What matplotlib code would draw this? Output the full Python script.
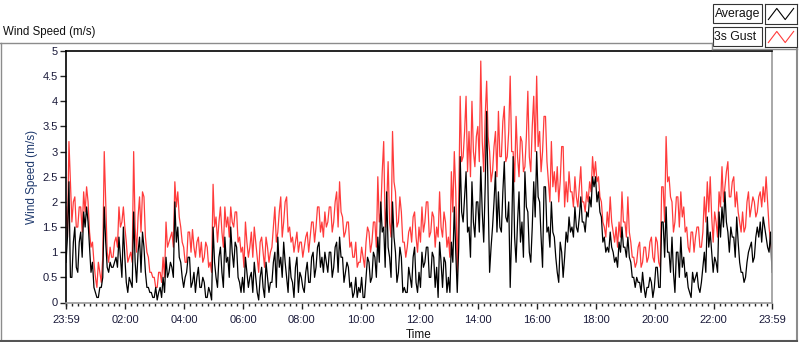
import matplotlib
matplotlib.use("Agg")
import matplotlib.pyplot as plt
import numpy as np
from matplotlib.patches import Rectangle
from matplotlib.lines import Line2D

plt.rcParams["font.family"] = ["Liberation Sans", "DejaVu Sans"]

# 3-minute samples (m/s), one row per hour starting at 23:59 of the previous day
gust = [
    1.9, 1.3, 3.2, 2.4, 1.6, 2.0, 2.1, 1.5, 1.5, 1.9, 1.9, 1.4, 2.2, 1.8, 2.3, 2.0, 1.4, 1.1, 1.2, 0.8,
    0.5, 0.3, 0.8, 0.6, 0.4, 0.9, 3.0, 2.0, 1.0, 0.8, 1.1, 0.9, 0.9, 1.2, 1.3, 1.1, 1.9, 1.5, 1.6, 1.9,
    1.5, 1.2, 0.8, 0.9, 1.0, 0.8, 3.0, 1.5, 1.0, 1.7, 2.1, 1.4, 2.2, 2.1, 1.3, 1.0, 0.9, 0.6, 0.6, 0.5,
    0.5, 0.3, 0.3, 0.6, 0.6, 0.4, 0.9, 0.5, 1.6, 1.1, 1.2, 1.3, 1.4, 1.1, 2.4, 1.9, 2.2, 1.7, 1.5, 1.2,
    1.1, 0.8, 0.8, 1.4, 1.4, 1.0, 1.45, 1.1, 0.9, 1.2, 1.3, 0.9, 1.2, 0.8, 0.9, 1.2, 1.1, 0.7, 0.8, 0.6,
    2.35, 1.5, 1.7, 1.2, 1.6, 1.9, 1.4, 1.1, 1.9, 1.5, 1.7, 1.3, 1.9, 1.6, 1.5, 1.8, 1.8, 1.2, 1.3, 1.0,
    1.1, 0.7, 1.6, 1.2, 0.9, 1.1, 1.4, 0.9, 1.5, 1.2, 0.9, 0.6, 1.2, 1.3, 1.0, 0.7, 1.3, 1.1, 0.8, 1.0,
    1.1, 1.5, 1.9, 1.2, 1.4, 1.8, 2.1, 1.3, 1.6, 2.0, 2.1, 1.4, 1.5, 1.2, 1.3, 1.0, 1.2, 1.4, 1.0, 1.2,
    1.2, 0.9, 1.1, 1.3, 1.4, 1.0, 1.3, 1.6, 1.6, 1.2, 1.5, 1.9, 1.9, 1.4, 1.6, 1.3, 1.8, 1.5, 1.6, 1.9,
    1.9, 1.4, 1.6, 2.0, 2.2, 1.5, 2.4, 1.8, 1.7, 1.3, 1.4, 1.6, 1.6, 1.1, 1.2, 0.9, 0.9, 1.2, 0.7, 0.8,
    0.8, 1.1, 0.9, 0.7, 1.2, 1.5, 1.4, 1.0, 1.2, 1.6, 1.6, 1.1, 2.5, 1.6, 1.8, 2.6, 3.2, 1.5, 1.9, 2.8,
    1.6, 1.3, 3.4, 2.4, 2.2, 1.5, 1.6, 2.1, 1.8, 1.2, 1.2, 0.9, 1.1, 1.4, 1.5, 1.2, 1.7, 1.8, 1.3, 1.0,
    1.5, 1.2, 1.9, 1.4, 1.6, 2.0, 2.0, 1.3, 1.4, 1.8, 1.7, 1.1, 1.5, 1.3, 2.2, 1.5, 1.3, 1.8, 1.6, 1.1,
    1.3, 0.9, 2.6, 1.8, 3.0, 2.2, 0.6, 2.0, 4.1, 2.8, 2.9, 3.4, 4.1, 2.6, 3.4, 2.5, 4.0, 3.0, 2.7, 3.3,
    3.5, 2.8, 4.8, 3.2, 2.6, 3.7, 4.4, 3.3, 3.0, 2.4, 2.6, 3.1, 3.4, 2.5, 3.8, 2.9, 2.9, 3.6, 3.9, 2.8,
    2.9, 3.4, 4.5, 3.0, 3.0, 2.4, 3.7, 2.9, 2.5, 3.3, 3.2, 2.6, 2.7, 3.3, 4.2, 2.9, 2.6, 3.5, 4.1, 3.0,
    4.5, 3.1, 3.4, 2.6, 3.0, 3.7, 3.7, 2.8, 2.4, 2.0, 3.2, 2.3, 2.6, 2.2, 2.7, 2.0, 2.4, 3.1, 3.1, 1.9,
    2.4, 2.0, 2.6, 2.2, 2.2, 1.9, 2.5, 2.1, 1.9, 2.3, 2.7, 2.0, 2.0, 1.8, 2.2, 2.0, 2.4, 2.2, 2.9, 2.5,
    2.8, 2.4, 2.5, 2.1, 2.0, 1.6, 1.5, 1.3, 1.8, 1.5, 2.1, 1.6, 1.4, 1.2, 1.5, 1.1, 1.6, 1.3, 2.2, 1.6,
    1.6, 1.3, 2.1, 1.4, 1.2, 0.9, 0.9, 0.7, 0.8, 1.1, 1.2, 0.7, 0.8, 1.1, 1.1, 0.8, 0.9, 1.2, 1.3, 0.9,
    0.8, 1.3, 1.2, 0.8, 0.7, 2.3, 2.3, 1.6, 3.3, 2.4, 2.5, 2.1, 2.0, 1.4, 1.6, 2.1, 2.1, 1.5, 2.2, 1.7,
    1.9, 1.4, 1.5, 1.1, 1.0, 1.4, 1.4, 1.0, 1.3, 1.5, 1.5, 1.1, 1.1, 1.4, 2.1, 1.6, 2.4, 1.8, 2.5, 1.7,
    1.2, 1.8, 1.6, 1.3, 2.2, 1.9, 2.7, 2.0, 2.3, 2.6, 2.8, 2.1, 2.1, 2.4, 2.5, 1.9, 2.2, 1.8, 1.6, 1.4,
    1.8, 1.4, 1.5, 2.0, 2.2, 1.7, 1.9, 2.1, 2.0, 1.7, 1.8, 2.1, 2.2, 1.9, 2.3, 2.0, 2.5, 2.0, 1.5, 1.2, 1.0,
]
average = [
    0.8, 1.3, 2.4, 0.5, 0.5, 1.2, 1.5, 0.7, 0.6, 1.2, 1.4, 0.9, 1.8, 1.5, 1.9, 1.6, 1.1, 0.6, 0.8, 0.3,
    0.2, 0.1, 0.1, 0.3, 0.3, 0.5, 1.9, 1.2, 0.7, 0.6, 0.8, 0.7, 0.7, 0.8, 0.9, 0.7, 1.3, 0.9, 0.5, 1.5,
    0.9, 0.4, 0.2, 0.5, 0.4, 0.3, 1.8, 0.8, 0.4, 1.0, 1.3, 0.6, 1.4, 1.1, 0.6, 0.3, 0.3, 0.2, 0.2, 0.1,
    0.1, 0.3, 0.05, 0.2, 0.3, 0.1, 0.5, 0.2, 0.9, 0.5, 0.6, 0.8, 0.7, 0.5, 2.0, 1.2, 1.5, 0.9, 0.8, 0.5,
    0.3, 0.5, 0.6, 0.9, 0.9, 0.3, 0.4, 0.6, 0.2, 0.5, 0.7, 0.3, 0.3, 0.5, 0.4, 0.1, 0.1, 0.3, 0.2, 0.05,
    1.5, 0.8, 0.5, 0.3, 0.9, 1.1, 0.6, 0.3, 1.3, 0.8, 0.9, 0.5, 1.5, 1.0, 0.7, 1.2, 1.1, 0.5, 0.4, 0.2,
    0.5, 0.2, 0.9, 0.6, 0.3, 0.5, 0.6, 0.2, 0.8, 0.5, 0.2, 0.05, 0.5, 0.7, 0.3, 0.1, 0.8, 0.5, 0.2, 0.4,
    0.4, 0.8, 1.0, 0.3, 1.3, 0.7, 0.9, 0.5, 1.2, 0.8, 0.5, 0.2, 0.9, 0.5, 0.4, 0.1, 0.7, 0.9, 0.2, 0.6,
    0.5, 0.3, 0.2, 0.6, 0.8, 0.4, 0.4, 0.9, 1.0, 0.5, 0.7, 1.1, 1.2, 0.7, 0.9, 0.6, 1.0, 0.8, 0.6, 1.0,
    1.0, 0.5, 0.7, 1.1, 1.2, 0.6, 1.3, 0.9, 0.9, 0.4, 0.6, 0.8, 0.7, 0.3, 0.4, 0.1, 0.2, 0.5, 0.1, 0.3,
    0.2, 0.5, 0.1, 0.1, 0.5, 0.9, 0.8, 0.4, 0.5, 1.0, 0.9, 0.5, 1.3, 0.8, 2.0, 1.4, 1.5, 0.7, 2.2, 1.1,
    0.9, 0.5, 2.0, 1.3, 1.0, 0.4, 0.6, 1.1, 0.9, 0.2, 0.3, 0.2, 0.2, 0.7, 0.5, 0.3, 0.9, 1.1, 0.4, 0.2,
    0.6, 0.3, 1.0, 0.7, 0.8, 1.1, 1.1, 0.5, 0.5, 1.0, 0.9, 0.3, 0.7, 0.1, 1.2, 0.8, 0.3, 0.9, 0.8, 0.2,
    0.5, 0.2, 1.2, 0.8, 1.9, 1.0, 0.2, 1.1, 2.9, 1.8, 1.6, 2.1, 2.6, 1.4, 1.5, 0.9, 2.4, 1.6, 1.3, 2.0,
    2.0, 1.4, 2.7, 1.8, 1.2, 2.3, 3.8, 2.1, 0.6, 1.1, 1.5, 2.0, 2.6, 1.4, 2.2, 1.5, 1.4, 2.2, 2.8, 1.7,
    1.6, 2.0, 0.3, 1.4, 2.9, 1.3, 0.8, 1.6, 2.2, 1.2, 1.6, 0.9, 2.6, 1.9, 1.8, 1.0, 0.8, 1.5, 2.4, 1.7,
    3.0, 2.1, 2.0, 1.3, 0.7, 2.3, 2.3, 1.4, 1.5, 1.1, 2.0, 1.4, 1.3, 0.9, 0.6, 0.4, 1.2, 1.0, 0.5, 0.9,
    1.4, 1.2, 1.7, 1.4, 1.5, 1.3, 1.9, 1.5, 1.4, 1.7, 2.1, 1.6, 1.6, 1.4, 1.8, 1.7, 2.1, 1.9, 2.5, 2.3,
    2.5, 2.0, 2.2, 1.8, 1.7, 1.2, 1.3, 1.0, 1.1, 1.0, 1.4, 1.1, 1.0, 0.8, 0.9, 0.7, 1.2, 1.0, 1.5, 1.1,
    1.1, 0.9, 1.3, 0.9, 0.8, 0.5, 0.5, 0.3, 0.5, 0.4, 0.4, 0.2, 0.6, 0.3, 0.1, 0.3, 0.3, 0.5, 0.4, 0.1,
    0.3, 0.7, 0.7, 0.3, 0.3, 1.6, 1.6, 0.9, 1.9, 1.0, 1.0, 0.6, 1.3, 0.6, 0.2, 1.0, 1.0, 0.5, 1.3, 0.7,
    0.9, 0.5, 0.6, 0.3, 0.2, 0.1, 0.6, 0.4, 0.5, 0.6, 0.3, 0.2, 0.4, 0.7, 1.0, 0.6, 1.7, 1.1, 1.4, 1.0,
    0.6, 0.9, 0.8, 0.6, 1.8, 1.3, 1.9, 1.5, 2.2, 1.6, 1.4, 1.0, 1.5, 1.3, 1.3, 0.9, 1.7, 1.2, 0.8, 0.6,
    0.6, 0.4, 0.5, 0.8, 1.0, 1.1, 1.2, 0.8, 0.9, 1.3, 1.5, 1.3, 1.6, 1.2, 1.7, 1.5, 1.3, 1.1, 1.0, 1.4, 0.6,
]
hours = np.arange(len(gust)) * 0.05

tick_labels = ["23:59", "02:00", "04:00", "06:00", "08:00", "10:00",
               "12:00", "14:00", "16:00", "18:00", "20:00", "22:00", "23:59"]
y_ticks = [0, 0.5, 1, 1.5, 2, 2.5, 3, 3.5, 4, 4.5, 5]
y_tick_labels = ["0", "0.5", "1", "1.5", "2", "2.5", "3", "3.5", "4", "4.5", "5"]

W, H = 800, 342
fig = plt.figure(figsize=(W / 100, H / 100), dpi=100)
fig.patch.set_facecolor("white")


def fx(px):
    return px / W


def fy(py):
    return 1 - py / H


ax = fig.add_axes([fx(66), fy(302.5), fx(772 - 66), (302.5 - 51) / H])
ax.plot(hours, gust, color="#ff3b3b", lw=0.9)
ax.plot(hours, average, color="black", lw=0.9)

ax.set_xlim(0, 24)
ax.set_ylim(0, 5)
major = [0] + [2 + 1 / 60 + 2 * k for k in range(11)] + [24]
ax.set_xticks(major)
ax.set_xticklabels(tick_labels)
ax.set_xticks(np.arange(1 / 60, 24, 0.2), minor=True)
ax.set_yticks(y_ticks)
ax.set_yticklabels(y_tick_labels)
ax.tick_params(axis="both", which="major", direction="out", length=4, width=1,
               labelsize=8, colors="#222222", labelcolor="#1a1a3a", pad=2)
ax.tick_params(axis="x", which="major", pad=5)
ax.tick_params(axis="x", which="minor", direction="out", length=2.5, width=1,
               colors="#222222")
for s in ("top", "left"):
    ax.spines[s].set_color("black")
    ax.spines[s].set_linewidth(1.2)
for s in ("bottom", "right"):
    ax.spines[s].set_color("#9a9a9a")
    ax.spines[s].set_linewidth(1.2)

ax.set_ylabel("Wind Speed (m/s)", fontsize=8.5, color="#1f3a6e", labelpad=3)
ax.set_xlabel("Time", fontsize=8.5, color="#111111", labelpad=3)

# panel frame and caption
gray = "#8c8c8c"
fig.add_artist(Line2D([fx(0), fx(712)], [fy(42.5), fy(42.5)], color=gray, lw=1))
fig.add_artist(Line2D([fx(712), fx(712)], [fy(42.5), fy(49)], color=gray, lw=1))
fig.add_artist(Line2D([fx(712), fx(797)], [fy(49), fy(49)], color=gray, lw=1))
fig.add_artist(Line2D([fx(797), fx(797)], [fy(49), fy(341)], color=gray, lw=1.5))
fig.add_artist(Line2D([fx(0.5), fx(0.5)], [fy(42.5), fy(341)], color=gray, lw=1))
fig.add_artist(Line2D([fx(0), fx(797)], [fy(341), fy(341)], color="#555555", lw=1.5))
fig.text(fx(3), fy(32), "Wind Speed (m/s)", fontsize=8.3, color="#111111",
         ha="left", va="center")

# legend
rows = [("Average", "black", 4), ("3s Gust", "#ff3b3b", 27)]
for name, col, top in rows:
    fig.add_artist(Rectangle((fx(713), fy(top + 19)), fx(49), 19 / H,
                             transform=fig.transFigure, facecolor="white",
                             edgecolor="#333333", lw=0.8))
    fig.text(fx(714.5), fy(top + 9.5), name, fontsize=8.8, color="#111111",
             ha="left", va="center")
    lax = fig.add_axes([fx(765), fy(top + 20), fx(32), 20 / H])
    lax.plot([0, 1, 2, 3], [0, 1, 0, 1], color=col, lw=0.8)
    lax.set_xlim(-0.4, 3.4)
    lax.set_ylim(-0.4, 1.4)
    lax.set_xticks([])
    lax.set_yticks([])
    for s in lax.spines.values():
        s.set_color("#333333")
        s.set_linewidth(0.8)

fig.savefig("out.png", dpi=100)
